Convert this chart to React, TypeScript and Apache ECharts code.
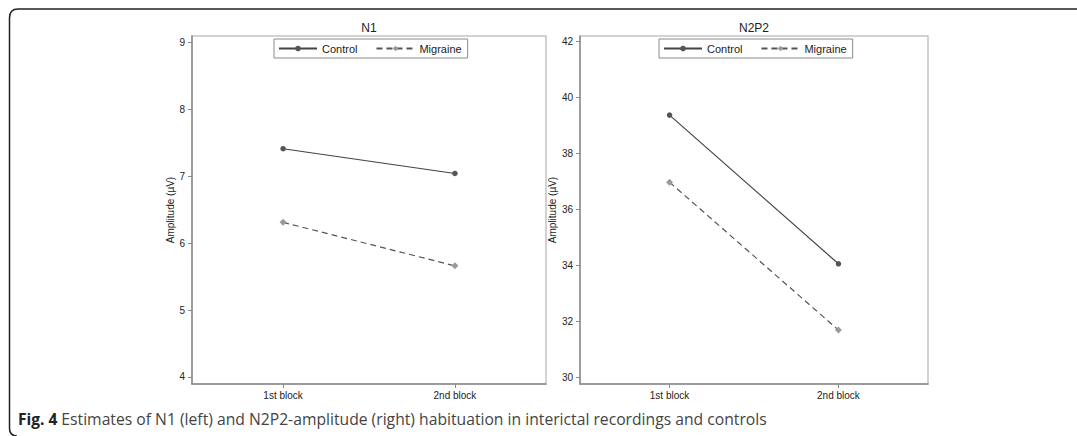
import React, { useEffect, useRef } from "react";
import * as echarts from "echarts";

const blocks = ["1st block", "2nd block"];
const blockPos = [1, 2];
const seriesNames = ["Control", "Migraine"];
const n1Control = [7.41, 7.04];
const n1Migraine = [6.31, 5.66];
const n2p2Control = [39.37, 34.05];
const n2p2Migraine = [36.97, 31.68];
const n1Ticks = [4, 5, 6, 7, 8, 9];
const n2p2Ticks = [30, 32, 34, 36, 38, 40, 42];
const panelTitles = ["N1", "N2P2"];
const yName = "Amplitude (µV)";
const captionBold = "Fig. 4";
const captionText =
  " Estimates of N1 (left) and N2P2-amplitude (right) habituation in interictal recordings and controls";

const FONT = "'Liberation Sans', Arial, sans-serif";

export default function App() {
  const ref = useRef<HTMLDivElement>(null);
  useEffect(() => {
    if (!ref.current) return;
    echarts.graphic.registerShape(
      "frame",
      echarts.graphic.extendPath(
        "M 1077 9 L 18 9 Q 9.5 9 9.5 18 L 9.5 428 Q 9.5 436 17 436",
        {}
      )
    );
    const chart = echarts.init(ref.current, null, { renderer: "svg" });
    const pairs = (vals: number[]) => vals.map((v, i) => [blockPos[i], v]);

    const xAxisBase = (gridIndex: number) => ({
      type: "value",
      gridIndex,
      min: 0.47,
      max: 2.53,
      axisLine: { show: true, lineStyle: { color: "#8a8a8a", width: 1.5 } },
      axisTick: {
        show: true,
        length: 4,
        customValues: blockPos,
        lineStyle: { color: "#8a8a8a" },
      },
      axisLabel: {
        customValues: blockPos,
        formatter: (v: number) => blocks[Math.round(v) - 1],
        fontSize: 10,
        color: "#222",
        fontFamily: FONT,
        margin: 6,
      },
      splitLine: { show: false },
    });
    const yAxisBase = (gridIndex: number, min: number, max: number, ticks: number[]) => ({
      type: "value",
      gridIndex,
      min,
      max,
      name: yName,
      nameLocation: "middle",
      nameGap: 16,
      nameTextStyle: { fontSize: 10, color: "#222", fontFamily: FONT },
      axisLine: { show: true, lineStyle: { color: "#8a8a8a", width: 1.5 } },
      axisTick: {
        show: true,
        length: 4,
        customValues: ticks,
        lineStyle: { color: "#8a8a8a" },
      },
      axisLabel: {
        customValues: ticks,
        fontSize: 10,
        color: "#222",
        fontFamily: FONT,
        margin: 7,
      },
      splitLine: { show: false },
    });

    const mkSeries = (name: string, idx: number, data: number[], dashed: boolean) => ({
      type: "line",
      name,
      xAxisIndex: idx,
      yAxisIndex: idx,
      data: pairs(data),
      symbol: dashed ? "diamond" : "circle",
      symbolSize: dashed ? 7 : 5.5,
      itemStyle: { color: dashed ? "#9a9a9a" : "#555" },
      lineStyle: {
        color: dashed ? "#555" : "#444",
        width: 1.2,
        type: dashed ? [6, 4] : "solid",
      },
      z: 3,
    });

    const legendBase = (left: number) => ({
      left,
      top: 39,
      orient: "horizontal",
      data: seriesNames,
      backgroundColor: "#fff",
      borderColor: "#8a8a8a",
      borderWidth: 1,
      borderRadius: 0,
      padding: [4, 6, 4, 4],
      itemWidth: 38,
      itemHeight: 7,
      itemGap: 18,
      selectedMode: false,
      textStyle: { fontSize: 11, color: "#222", fontFamily: FONT },
    });

    chart.setOption({
      animation: false,
      backgroundColor: "#fff",
      grid: [
        {
          left: 192,
          top: 36,
          width: 354,
          height: 348,
          show: true,
          borderColor: "#c4c4c4",
          borderWidth: 1.5,
          backgroundColor: "#fff",
        },
        {
          left: 580,
          top: 36,
          width: 348,
          height: 348,
          show: true,
          borderColor: "#c4c4c4",
          borderWidth: 1.5,
          backgroundColor: "#fff",
        },
      ],
      xAxis: [xAxisBase(0), xAxisBase(1)],
      yAxis: [
        yAxisBase(0, 3.895, 9.094, n1Ticks),
        yAxisBase(1, 29.75, 42.2, n2p2Ticks),
      ],
      legend: [legendBase(274), legendBase(659)],
      series: [
        mkSeries(seriesNames[0], 0, n1Control, false),
        mkSeries(seriesNames[1], 0, n1Migraine, true),
        mkSeries(seriesNames[0], 1, n2p2Control, false),
        mkSeries(seriesNames[1], 1, n2p2Migraine, true),
      ],
      graphic: [
        {
          type: "frame",
          x: 0,
          y: 0,
          style: { fill: null, stroke: "#222", lineWidth: 1.5 },
          silent: true,
        },
        {
          type: "text",
          x: 369,
          y: 28,
          style: {
            text: panelTitles[0],
            textAlign: "center",
            textVerticalAlign: "middle",
            fontSize: 12,
            fill: "#222",
            fontFamily: FONT,
          },
        },
        {
          type: "text",
          x: 754,
          y: 28,
          style: {
            text: panelTitles[1],
            textAlign: "center",
            textVerticalAlign: "middle",
            fontSize: 12,
            fill: "#222",
            fontFamily: FONT,
          },
        },
        {
          type: "text",
          x: 18,
          y: 419,
          style: {
            text: "{b|" + captionBold + "}{t|" + captionText + "}",
            textVerticalAlign: "middle",
            rich: {
              b: {
                fontSize: 15.5,
                fontWeight: "bold",
                fill: "#222",
                fontFamily: "'Open Sans', sans-serif",
              },
              t: {
                fontSize: 15.7,
                fill: "#444",
                fontFamily: "'Open Sans', sans-serif",
              },
            },
          },
        },
      ],
    });
    return () => chart.dispose();
  }, []);
  return (
    <div
      ref={ref}
      style={{ position: "fixed", left: 0, top: 0, width: 1077, height: 436 }}
    />
  );
}
